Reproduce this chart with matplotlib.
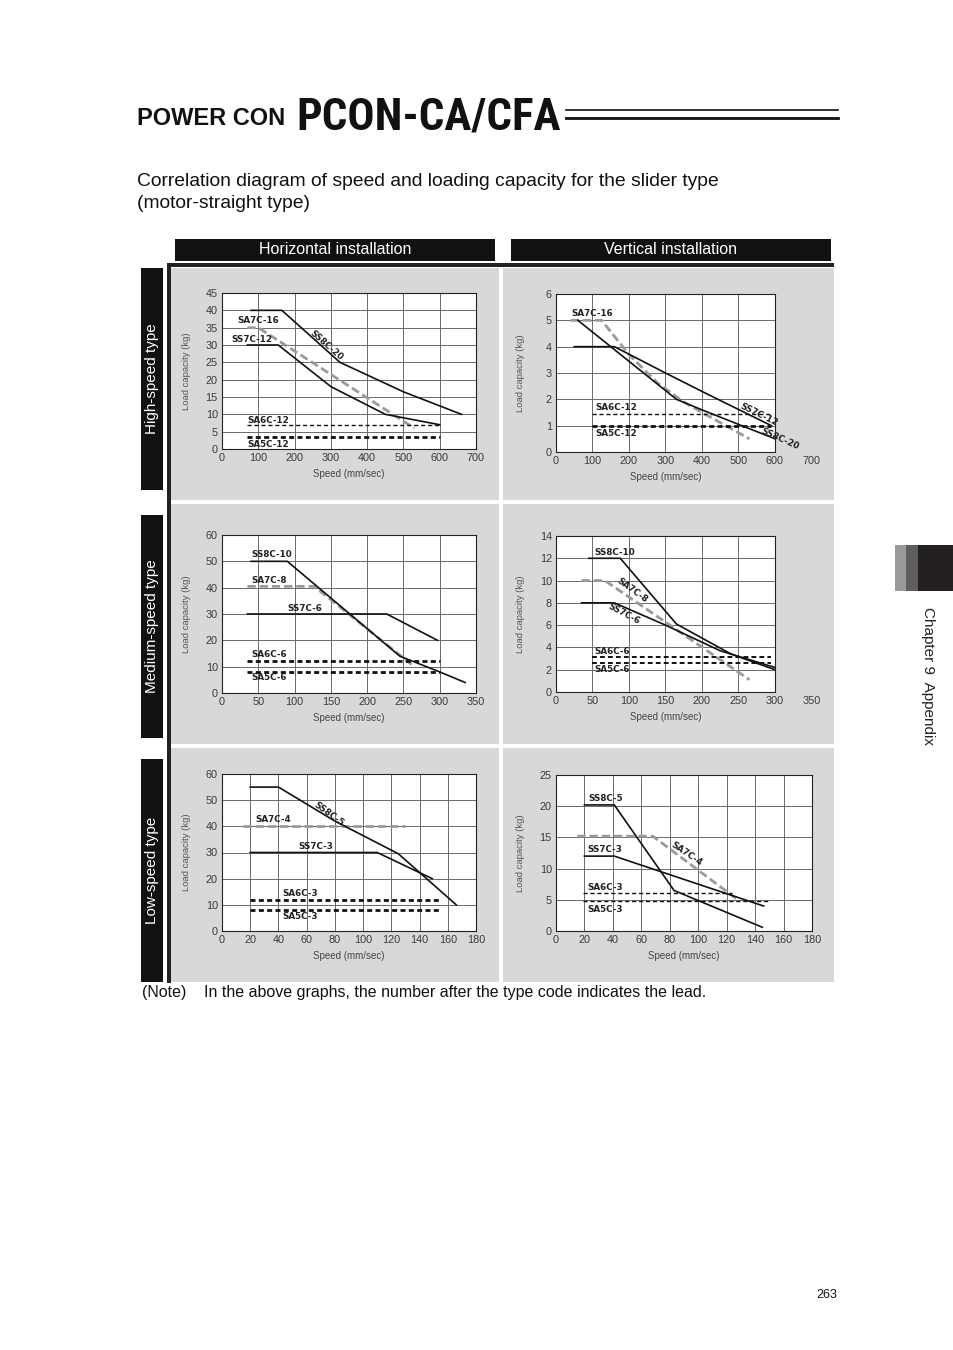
import matplotlib
matplotlib.use("Agg")
import matplotlib.pyplot as plt
from matplotlib.patches import Rectangle
import numpy as np

W, H = 954, 1350
plt.rcParams['font.family'] = ['Liberation Sans', 'DejaVu Sans']

# ---------------- data ----------------
# high-speed type, horizontal installation
hs_h_ss8c20_x = [80, 165, 325, 500, 660]
hs_h_ss8c20_y = [40, 40, 25, 16.5, 10]
hs_h_ss7c12_x = [70, 155, 300, 450, 500, 600]
hs_h_ss7c12_y = [30, 30, 18, 10, 9, 7]
hs_h_sa7c16_x = [70, 100, 530]
hs_h_sa7c16_y = [35, 35, 6]
hs_h_sa6c12_x = [70, 600]
hs_h_sa6c12_y = [7, 7]
hs_h_sa5c12_x = [70, 600]
hs_h_sa5c12_y = [3.5, 3.5]

# high-speed type, vertical installation
hs_v_ss8c20_x = [60, 330, 400, 600]
hs_v_ss8c20_y = [5, 2, 1.6, 0.5]
hs_v_ss7c12_x = [50, 160, 300, 400, 590]
hs_v_ss7c12_y = [4, 4, 3, 2.3, 1]
hs_v_sa7c16_x = [40, 125, 200, 280, 350, 400, 530]
hs_v_sa7c16_y = [5, 5, 3.7, 2.6, 1.9, 1.5, 0.5]
hs_v_sa6c12_x = [100, 590]
hs_v_sa6c12_y = [1.45, 1.45]
hs_v_sa5c12_x = [100, 590]
hs_v_sa5c12_y = [1, 1]

# medium-speed type, horizontal installation
ms_h_ss8c10_x = [40, 90, 245, 300, 335]
ms_h_ss8c10_y = [50, 50, 14, 8, 4]
ms_h_ss7c6_x = [35, 227, 297]
ms_h_ss7c6_y = [30, 30, 20]
ms_h_sa7c8_x = [35, 127, 265]
ms_h_sa7c8_y = [40.5, 40.5, 10]
ms_h_sa6c6_x = [35, 300]
ms_h_sa6c6_y = [12, 12]
ms_h_sa5c6_x = [35, 300]
ms_h_sa5c6_y = [8, 8]

# medium-speed type, vertical installation
ms_v_ss8c10_x = [45, 88, 165, 240, 300]
ms_v_ss8c10_y = [12, 12, 6.1, 3.4, 2]
ms_v_ss7c6_x = [35, 80, 150, 225, 300]
ms_v_ss7c6_y = [8, 8, 6, 3.7, 2.2]
ms_v_sa7c8_x = [35, 67, 265]
ms_v_sa7c8_y = [10, 10, 1.1]
ms_v_sa6c6_x = [50, 295]
ms_v_sa6c6_y = [3.15, 3.15]
ms_v_sa5c6_x = [50, 295]
ms_v_sa5c6_y = [2.6, 2.6]

# low-speed type, horizontal installation
ls_h_ss8c5_x = [20, 40, 80, 125, 166]
ls_h_ss8c5_y = [55, 55, 42, 29.5, 10]
ls_h_ss7c3_x = [20, 110, 149]
ls_h_ss7c3_y = [30, 30, 20]
ls_h_sa7c4_x = [15, 130]
ls_h_sa7c4_y = [40, 40]
ls_h_sa6c3_x = [20, 154]
ls_h_sa6c3_y = [12, 12]
ls_h_sa5c3_x = [20, 154]
ls_h_sa5c3_y = [8, 8]

# low-speed type, vertical installation
ls_v_ss8c5_x = [20, 41, 83, 145]
ls_v_ss8c5_y = [20.2, 20.2, 6.5, 0.6]
ls_v_ss7c3_x = [20, 41, 146]
ls_v_ss7c3_y = [12, 12, 4]
ls_v_sa7c4_x = [15, 68, 129]
ls_v_sa7c4_y = [15.2, 15.2, 4.8]
ls_v_sa6c3_x = [19, 124]
ls_v_sa6c3_y = [6.1, 6.1]
ls_v_sa5c3_x = [19, 150]
ls_v_sa5c3_y = [4.8, 4.8]

col_titles = ["Horizontal installation", "Vertical installation"]
row_titles = ["High-speed type", "Medium-speed type", "Low-speed type"]

# ---------------- styles ----------------
STYLE = {
    'solid': dict(color='#111111', lw=1.2, ls='-'),
    'gray': dict(color='#9a9a9a', lw=2.0, dashes=(3, 1.4)),
    'thin': dict(color='#111111', lw=1.0, dashes=(3, 2)),
    'mid': dict(color='#111111', lw=1.4, dashes=(2.5, 1.6)),
    'thick': dict(color='#111111', lw=2.0, dashes=(1.8, 1.2)),
}
PANEL_BG = '#d8d8d8'

fig = plt.figure(figsize=(W / 100, H / 100), dpi=100)
bg = fig.add_axes([0, 0, 1, 1])
bg.set_xlim(0, W)
bg.set_ylim(H, 0)
bg.axis('off')


def box(x0, y0, x1, y1, color):
    bg.add_patch(Rectangle((x0, y0), x1 - x0, y1 - y0, facecolor=color,
                           edgecolor='none'))


def rect(x0, y0, x1, y1):
    return [x0 / W, 1 - y1 / H, (x1 - x0) / W, (y1 - y0) / H]


def panel(px, xmax, xstep, ymax, ystep, series, labels, box_xmax=None):
    x0, y0, x1, y1 = px
    ax = fig.add_axes(rect(*px))
    xb = box_xmax if box_xmax else xmax
    ax.set_xlim(0, xb)
    ax.set_ylim(0, ymax)
    ax.set_xticks(np.arange(0, xb + 0.001, xstep))
    ax.set_yticks(np.arange(0, ymax + 0.001, ystep))
    ax.grid(True, color='#6a6a6a', lw=0.7)
    ax.set_axisbelow(True)
    ax.tick_params(length=0, pad=3, labelsize=7.8, colors='#3a3a3a')
    for s in ax.spines.values():
        s.set_color('#222222')
        s.set_lw(0.8)
    if box_xmax:
        # the reference prints one more tick label past the drawn box
        for v in np.arange(box_xmax + xstep, xmax + 0.001, xstep):
            ax.annotate('%d' % v, xy=(v, 0), xycoords=('data', 'axes fraction'),
                        xytext=(0, -3), textcoords='offset points',
                        ha='center', va='top', fontsize=7.8, color='#3a3a3a',
                        annotation_clip=False)
    ax.set_xlabel('Speed (mm/sec)', fontsize=7, color='#444444')
    ax.xaxis.set_label_coords(0.5, -20 / (y1 - y0))
    ax.set_ylabel('Load capacity (kg)', fontsize=6.8, color='#555555')
    ax.yaxis.set_label_coords(-31 / (x1 - x0), 0.5)
    for x, y, kind in series:
        ax.plot(x, y, solid_joinstyle='miter', **STYLE[kind])
    for txt, x, y, rot in labels:
        ax.text(x, y, txt, fontsize=6.3, fontweight='bold', color='#222222',
                family=['DejaVu Sans'],
                rotation=rot, ha='left' if rot == 0 else 'center',
                va='center', rotation_mode='anchor' if rot == 0 else 'default')
    return ax


# ---------------- page header ----------------
bg.text(137, 125, "POWER CON", fontsize=17, fontweight='bold', va='baseline',
        color='#111111')
bg.text(296, 129, "PCON-CA/CFA", fontsize=32.5, fontweight='bold', va='baseline',
        color='#111111', family=['Roboto Condensed', 'Liberation Sans'])
bg.plot([566, 838], [110, 110], color='#111111', lw=1.2)
bg.plot([566, 838], [118, 118], color='#111111', lw=2.0)

bg.text(137, 181, "Correlation diagram of speed and loading capacity for the slider type",
        fontsize=13.9, va='center', color='#111111')
bg.text(137, 203, "(motor-straight type)", fontsize=13.9, va='center',
        color='#111111')

# column headers
box(175, 239, 495, 261, '#111111')
box(511, 239, 831, 261, '#111111')
bg.text(335, 249, col_titles[0], fontsize=11.5, color='white', ha='center', va='center')
bg.text(671, 249, col_titles[1], fontsize=11.5, color='white', ha='center', va='center')

# frame and panel backgrounds
box(167, 263, 834, 267, '#222222')
box(167, 263, 171, 983, '#222222')
rows_px = [(268, 500), (504, 744), (748, 982)]
for r0, r1 in rows_px:
    box(171, r0, 499, r1, PANEL_BG)
    box(503, r0, 834, r1, PANEL_BG)

# row labels
row_boxes = [(268, 490), (515, 738), (759, 982)]
for (r0, r1), t in zip(row_boxes, row_titles):
    box(141, r0, 163, r1, '#111111')
    bg.text(152, (r0 + r1) / 2, t, fontsize=11, color='white', rotation=90,
            ha='center', va='center')

# ---------------- charts ----------------
panel((222, 293, 476, 449), 700, 100, 45, 5,
      [(hs_h_sa7c16_x, hs_h_sa7c16_y, 'gray'),
       (hs_h_ss8c20_x, hs_h_ss8c20_y, 'solid'),
       (hs_h_ss7c12_x, hs_h_ss7c12_y, 'solid'),
       (hs_h_sa6c12_x, hs_h_sa6c12_y, 'thin'),
       (hs_h_sa5c12_x, hs_h_sa5c12_y, 'thick')],
      [("SA7C-16", 41, 37, 0), ("SS7C-12", 27, 31.5, 0),
       ("SS8C-20", 289, 30, -41), ("SA6C-12", 71, 8.2, 0),
       ("SA5C-12", 71, 1.4, 0)])

panel((556, 294, 775, 452), 700, 100, 6, 1,
      [(hs_v_sa7c16_x, hs_v_sa7c16_y, 'gray'),
       (hs_v_ss8c20_x, hs_v_ss8c20_y, 'solid'),
       (hs_v_ss7c12_x, hs_v_ss7c12_y, 'solid'),
       (hs_v_sa6c12_x, hs_v_sa6c12_y, 'thin'),
       (hs_v_sa5c12_x, hs_v_sa5c12_y, 'thick')],
      [("SA7C-16", 41, 5.27, 0), ("SA6C-12", 109, 1.69, 0),
       ("SA5C-12", 109, 0.7, 0), ("SS7C-12", 556, 1.4, -26),
       ("SS8C-20", 615, 0.5, -24)],
      box_xmax=600)

panel((222, 535, 476, 693), 350, 50, 60, 10,
      [(ms_h_sa7c8_x, ms_h_sa7c8_y, 'gray'),
       (ms_h_ss8c10_x, ms_h_ss8c10_y, 'solid'),
       (ms_h_ss7c6_x, ms_h_ss7c6_y, 'solid'),
       (ms_h_sa6c6_x, ms_h_sa6c6_y, 'thick'),
       (ms_h_sa5c6_x, ms_h_sa5c6_y, 'thick')],
      [("SS8C-10", 41, 52.5, 0), ("SA7C-8", 41, 42.6, 0),
       ("SS7C-6", 90.5, 32.1, 0), ("SA6C-6", 41, 14.7, 0),
       ("SA5C-6", 41, 5.8, 0)])

panel((556, 536, 775, 692), 350, 50, 14, 2,
      [(ms_v_sa7c8_x, ms_v_sa7c8_y, 'gray'),
       (ms_v_ss8c10_x, ms_v_ss8c10_y, 'solid'),
       (ms_v_ss7c6_x, ms_v_ss7c6_y, 'solid'),
       (ms_v_sa6c6_x, ms_v_sa6c6_y, 'mid'),
       (ms_v_sa5c6_x, ms_v_sa5c6_y, 'mid')],
      [("SS8C-10", 53, 12.56, 0), ("SA7C-8", 104, 9.1, -36),
       ("SS7C-6", 92.5, 7.0, -28), ("SA6C-6", 52, 3.6, 0),
       ("SA5C-6", 52, 2.0, 0)],
      box_xmax=300)

panel((222, 774, 476, 931), 180, 20, 60, 10,
      [(ls_h_sa7c4_x, ls_h_sa7c4_y, 'gray'),
       (ls_h_ss8c5_x, ls_h_ss8c5_y, 'solid'),
       (ls_h_ss7c3_x, ls_h_ss7c3_y, 'solid'),
       (ls_h_sa6c3_x, ls_h_sa6c3_y, 'thick'),
       (ls_h_sa5c3_x, ls_h_sa5c3_y, 'thick')],
      [("SA7C-4", 23.6, 42.6, 0), ("SS8C-5", 75.6, 44.5, -36),
       ("SS7C-3", 53.9, 32.2, 0), ("SA6C-3", 42.5, 14.4, 0),
       ("SA5C-3", 42.5, 5.5, 0)])

panel((556, 775, 812, 931), 180, 20, 25, 5,
      [(ls_v_sa7c4_x, ls_v_sa7c4_y, 'gray'),
       (ls_v_ss8c5_x, ls_v_ss8c5_y, 'solid'),
       (ls_v_ss7c3_x, ls_v_ss7c3_y, 'solid'),
       (ls_v_sa6c3_x, ls_v_sa6c3_y, 'thin'),
       (ls_v_sa5c3_x, ls_v_sa5c3_y, 'thin')],
      [("SS8C-5", 23, 21.3, 0), ("SS7C-3", 22, 13.1, 0),
       ("SA7C-4", 91.7, 12.3, -34), ("SA6C-3", 22, 7.0, 0),
       ("SA5C-3", 22, 3.5, 0)])

# ---------------- footer / side tab ----------------
bg.text(142, 993, "(Note)", fontsize=11.5, va='center', color='#111111')
bg.text(204, 993, "In the above graphs, the number after the type code indicates the lead.",
        fontsize=11.5, va='center', color='#111111')

box(895, 545, 906, 591, '#9a9a9a')
box(906, 545, 918, 591, '#5e5e5e')
box(918, 545, 954, 591, '#231f20')
bg.text(928, 676, "Chapter 9  Appendix", fontsize=11, rotation=270,
        ha='center', va='center', color='#222222')

bg.text(827, 1295, "263", fontsize=9, ha='center', va='center', color='#111111')

fig.savefig("out.png", dpi=100)
